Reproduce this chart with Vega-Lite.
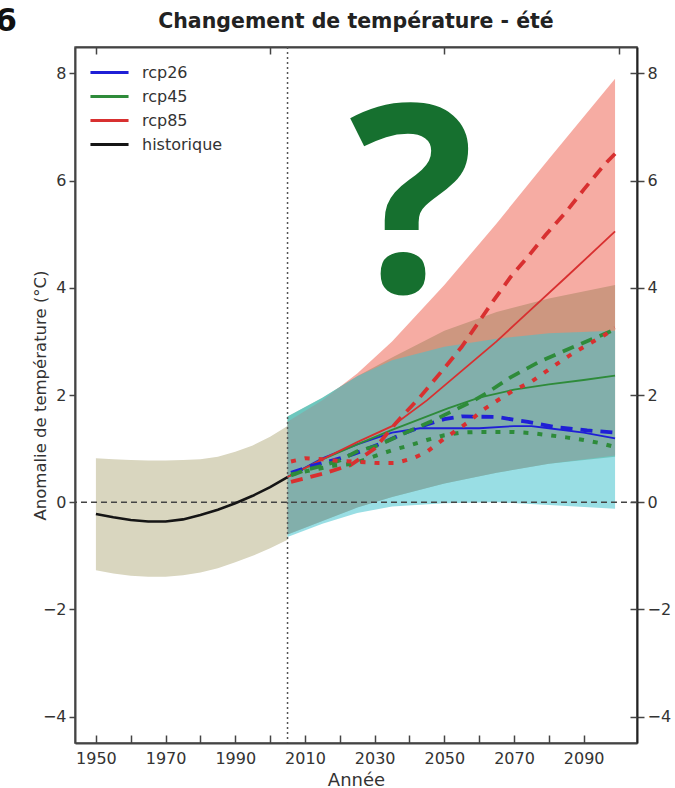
{
  "$schema": "https://vega.github.io/schema/vega-lite/v6.json",
  "width": 562,
  "height": 696,
  "autosize": {"type": "none"},
  "padding": {"left": 75, "top": 47, "right": 38, "bottom": 45},
  "background": "white",
  "title": {"text": "Changement de température - été", "fontSize": 20.5, "fontWeight": "bold", "color": "#222", "offset": 18, "dy": 45.5, "anchor": "middle", "frame": "group", "font": "DejaVu Sans"},
  "config": {
    "font": "DejaVu Sans",
    "view": {"stroke": "#555", "strokeWidth": 1.5},
    "axis": {"labelFont": "DejaVu Sans", "labelFontSize": 16, "labelColor": "#333", "titleFont": "DejaVu Sans", "titleFontSize": 16.5, "titleFontWeight": "normal", "titleColor": "#333", "domainColor": "#444", "domainWidth": 2, "tickColor": "#444", "tickWidth": 1.5, "grid": false}
  },
  "datasets": {
    "hist": [
      {"year": 1950, "val": -0.22, "lo": -1.27, "hi": 0.82},
      {"year": 1955, "val": -0.28, "lo": -1.33, "hi": 0.80},
      {"year": 1960, "val": -0.33, "lo": -1.37, "hi": 0.79},
      {"year": 1965, "val": -0.36, "lo": -1.39, "hi": 0.78},
      {"year": 1970, "val": -0.36, "lo": -1.39, "hi": 0.78},
      {"year": 1975, "val": -0.32, "lo": -1.36, "hi": 0.79},
      {"year": 1980, "val": -0.24, "lo": -1.31, "hi": 0.80},
      {"year": 1985, "val": -0.14, "lo": -1.23, "hi": 0.85},
      {"year": 1990, "val": -0.02, "lo": -1.12, "hi": 0.94},
      {"year": 1995, "val": 0.12, "lo": -1.0, "hi": 1.06},
      {"year": 2000, "val": 0.28, "lo": -0.86, "hi": 1.22},
      {"year": 2005, "val": 0.47, "lo": -0.70, "hi": 1.42}
    ],
    "bands": [
      {"scen": "rcp26", "year": 2005, "lo": -0.65, "hi": 1.6},
      {"scen": "rcp26", "year": 2015, "lo": -0.4, "hi": 1.95},
      {"scen": "rcp26", "year": 2025, "lo": -0.2, "hi": 2.35},
      {"scen": "rcp26", "year": 2035, "lo": -0.08, "hi": 2.65},
      {"scen": "rcp26", "year": 2050, "lo": -0.02, "hi": 2.9},
      {"scen": "rcp26", "year": 2065, "lo": 0.0, "hi": 3.05},
      {"scen": "rcp26", "year": 2080, "lo": -0.05, "hi": 3.15},
      {"scen": "rcp26", "year": 2099, "lo": -0.12, "hi": 3.2},
      {"scen": "rcp45", "year": 2005, "lo": -0.6, "hi": 1.6},
      {"scen": "rcp45", "year": 2015, "lo": -0.35, "hi": 1.95},
      {"scen": "rcp45", "year": 2025, "lo": -0.1, "hi": 2.35},
      {"scen": "rcp45", "year": 2035, "lo": 0.1, "hi": 2.7},
      {"scen": "rcp45", "year": 2050, "lo": 0.35, "hi": 3.2},
      {"scen": "rcp45", "year": 2065, "lo": 0.55, "hi": 3.55},
      {"scen": "rcp45", "year": 2080, "lo": 0.72, "hi": 3.8},
      {"scen": "rcp45", "year": 2099, "lo": 0.85, "hi": 4.05},
      {"scen": "rcp85", "year": 2005, "lo": -0.6, "hi": 1.5},
      {"scen": "rcp85", "year": 2015, "lo": -0.35, "hi": 1.9},
      {"scen": "rcp85", "year": 2025, "lo": -0.1, "hi": 2.4},
      {"scen": "rcp85", "year": 2035, "lo": 0.1, "hi": 3.0},
      {"scen": "rcp85", "year": 2050, "lo": 0.35, "hi": 4.05},
      {"scen": "rcp85", "year": 2065, "lo": 0.55, "hi": 5.2},
      {"scen": "rcp85", "year": 2080, "lo": 0.72, "hi": 6.4},
      {"scen": "rcp85", "year": 2099, "lo": 0.87, "hi": 7.9}
    ],
    "lines": [
      {"scen": "historique", "style": "solid", "year": 1950, "val": -0.22},
      {"scen": "historique", "style": "solid", "year": 1955, "val": -0.28},
      {"scen": "historique", "style": "solid", "year": 1960, "val": -0.33},
      {"scen": "historique", "style": "solid", "year": 1965, "val": -0.36},
      {"scen": "historique", "style": "solid", "year": 1970, "val": -0.36},
      {"scen": "historique", "style": "solid", "year": 1975, "val": -0.32},
      {"scen": "historique", "style": "solid", "year": 1980, "val": -0.24},
      {"scen": "historique", "style": "solid", "year": 1985, "val": -0.14},
      {"scen": "historique", "style": "solid", "year": 1990, "val": -0.02},
      {"scen": "historique", "style": "solid", "year": 1995, "val": 0.12},
      {"scen": "historique", "style": "solid", "year": 2000, "val": 0.28},
      {"scen": "historique", "style": "solid", "year": 2005, "val": 0.47},

      {"scen": "rcp26", "style": "solid", "year": 2005, "val": 0.47},
      {"scen": "rcp26", "style": "solid", "year": 2015, "val": 0.82},
      {"scen": "rcp26", "style": "solid", "year": 2025, "val": 1.08},
      {"scen": "rcp26", "style": "solid", "year": 2035, "val": 1.3},
      {"scen": "rcp26", "style": "solid", "year": 2043, "val": 1.38},
      {"scen": "rcp26", "style": "solid", "year": 2050, "val": 1.38},
      {"scen": "rcp26", "style": "solid", "year": 2060, "val": 1.38},
      {"scen": "rcp26", "style": "solid", "year": 2070, "val": 1.42},
      {"scen": "rcp26", "style": "solid", "year": 2075, "val": 1.42},
      {"scen": "rcp26", "style": "solid", "year": 2080, "val": 1.38},
      {"scen": "rcp26", "style": "solid", "year": 2090, "val": 1.3},
      {"scen": "rcp26", "style": "solid", "year": 2099, "val": 1.19},

      {"scen": "rcp45", "style": "solid", "year": 2005, "val": 0.47},
      {"scen": "rcp45", "style": "solid", "year": 2015, "val": 0.8},
      {"scen": "rcp45", "style": "solid", "year": 2025, "val": 1.08},
      {"scen": "rcp45", "style": "solid", "year": 2035, "val": 1.35},
      {"scen": "rcp45", "style": "solid", "year": 2043, "val": 1.55},
      {"scen": "rcp45", "style": "solid", "year": 2051, "val": 1.75},
      {"scen": "rcp45", "style": "solid", "year": 2060, "val": 1.95},
      {"scen": "rcp45", "style": "solid", "year": 2070, "val": 2.1},
      {"scen": "rcp45", "style": "solid", "year": 2080, "val": 2.2},
      {"scen": "rcp45", "style": "solid", "year": 2090, "val": 2.28},
      {"scen": "rcp45", "style": "solid", "year": 2099, "val": 2.36},

      {"scen": "rcp85", "style": "solid", "year": 2005, "val": 0.47},
      {"scen": "rcp85", "style": "solid", "year": 2015, "val": 0.8},
      {"scen": "rcp85", "style": "solid", "year": 2025, "val": 1.12},
      {"scen": "rcp85", "style": "solid", "year": 2035, "val": 1.42},
      {"scen": "rcp85", "style": "solid", "year": 2045, "val": 1.9},
      {"scen": "rcp85", "style": "solid", "year": 2055, "val": 2.45},
      {"scen": "rcp85", "style": "solid", "year": 2065, "val": 3.0},
      {"scen": "rcp85", "style": "solid", "year": 2075, "val": 3.6},
      {"scen": "rcp85", "style": "solid", "year": 2085, "val": 4.2},
      {"scen": "rcp85", "style": "solid", "year": 2099, "val": 5.05},

      {"scen": "rcp26", "style": "dashed", "year": 2006, "val": 0.55},
      {"scen": "rcp26", "style": "dashed", "year": 2012, "val": 0.68},
      {"scen": "rcp26", "style": "dashed", "year": 2018, "val": 0.78},
      {"scen": "rcp26", "style": "dashed", "year": 2024, "val": 0.9},
      {"scen": "rcp26", "style": "dashed", "year": 2032, "val": 1.1},
      {"scen": "rcp26", "style": "dashed", "year": 2039, "val": 1.3},
      {"scen": "rcp26", "style": "dashed", "year": 2045, "val": 1.45},
      {"scen": "rcp26", "style": "dashed", "year": 2050, "val": 1.55},
      {"scen": "rcp26", "style": "dashed", "year": 2055, "val": 1.6},
      {"scen": "rcp26", "style": "dashed", "year": 2065, "val": 1.59},
      {"scen": "rcp26", "style": "dashed", "year": 2074, "val": 1.5},
      {"scen": "rcp26", "style": "dashed", "year": 2082, "val": 1.4},
      {"scen": "rcp26", "style": "dashed", "year": 2091, "val": 1.34},
      {"scen": "rcp26", "style": "dashed", "year": 2099, "val": 1.3},

      {"scen": "rcp45", "style": "dashed", "year": 2006, "val": 0.5},
      {"scen": "rcp45", "style": "dashed", "year": 2010, "val": 0.6},
      {"scen": "rcp45", "style": "dashed", "year": 2015, "val": 0.68},
      {"scen": "rcp45", "style": "dashed", "year": 2020, "val": 0.78},
      {"scen": "rcp45", "style": "dashed", "year": 2025, "val": 0.95},
      {"scen": "rcp45", "style": "dashed", "year": 2031, "val": 1.06},
      {"scen": "rcp45", "style": "dashed", "year": 2039, "val": 1.3},
      {"scen": "rcp45", "style": "dashed", "year": 2046, "val": 1.5},
      {"scen": "rcp45", "style": "dashed", "year": 2053, "val": 1.72},
      {"scen": "rcp45", "style": "dashed", "year": 2058, "val": 1.88},
      {"scen": "rcp45", "style": "dashed", "year": 2062, "val": 2.03},
      {"scen": "rcp45", "style": "dashed", "year": 2069, "val": 2.33},
      {"scen": "rcp45", "style": "dashed", "year": 2077, "val": 2.61},
      {"scen": "rcp45", "style": "dashed", "year": 2085, "val": 2.84},
      {"scen": "rcp45", "style": "dashed", "year": 2093, "val": 3.06},
      {"scen": "rcp45", "style": "dashed", "year": 2099, "val": 3.22},

      {"scen": "rcp85", "style": "dashed", "year": 2006, "val": 0.38},
      {"scen": "rcp85", "style": "dashed", "year": 2015, "val": 0.53},
      {"scen": "rcp85", "style": "dashed", "year": 2023, "val": 0.69},
      {"scen": "rcp85", "style": "dashed", "year": 2030, "val": 1.0},
      {"scen": "rcp85", "style": "dashed", "year": 2036, "val": 1.47},
      {"scen": "rcp85", "style": "dashed", "year": 2043, "val": 1.96},
      {"scen": "rcp85", "style": "dashed", "year": 2050, "val": 2.5},
      {"scen": "rcp85", "style": "dashed", "year": 2055, "val": 2.9},
      {"scen": "rcp85", "style": "dashed", "year": 2064, "val": 3.75},
      {"scen": "rcp85", "style": "dashed", "year": 2069, "val": 4.2},
      {"scen": "rcp85", "style": "dashed", "year": 2074, "val": 4.58},
      {"scen": "rcp85", "style": "dashed", "year": 2079, "val": 4.98},
      {"scen": "rcp85", "style": "dashed", "year": 2085, "val": 5.42},
      {"scen": "rcp85", "style": "dashed", "year": 2090, "val": 5.83},
      {"scen": "rcp85", "style": "dashed", "year": 2096, "val": 6.3},
      {"scen": "rcp85", "style": "dashed", "year": 2099, "val": 6.5},

      {"scen": "rcp45", "style": "dotted", "year": 2006, "val": 0.52},
      {"scen": "rcp45", "style": "dotted", "year": 2012, "val": 0.6},
      {"scen": "rcp45", "style": "dotted", "year": 2018, "val": 0.68},
      {"scen": "rcp45", "style": "dotted", "year": 2024, "val": 0.72},
      {"scen": "rcp45", "style": "dotted", "year": 2030, "val": 0.86},
      {"scen": "rcp45", "style": "dotted", "year": 2035, "val": 0.97},
      {"scen": "rcp45", "style": "dotted", "year": 2040, "val": 1.06},
      {"scen": "rcp45", "style": "dotted", "year": 2045, "val": 1.16},
      {"scen": "rcp45", "style": "dotted", "year": 2050, "val": 1.25},
      {"scen": "rcp45", "style": "dotted", "year": 2055, "val": 1.3},
      {"scen": "rcp45", "style": "dotted", "year": 2060, "val": 1.31},
      {"scen": "rcp45", "style": "dotted", "year": 2065, "val": 1.31},
      {"scen": "rcp45", "style": "dotted", "year": 2070, "val": 1.31},
      {"scen": "rcp45", "style": "dotted", "year": 2075, "val": 1.29},
      {"scen": "rcp45", "style": "dotted", "year": 2080, "val": 1.25},
      {"scen": "rcp45", "style": "dotted", "year": 2085, "val": 1.21},
      {"scen": "rcp45", "style": "dotted", "year": 2090, "val": 1.16},
      {"scen": "rcp45", "style": "dotted", "year": 2095, "val": 1.1},
      {"scen": "rcp45", "style": "dotted", "year": 2099, "val": 1.03},

      {"scen": "rcp85", "style": "dotted", "year": 2006, "val": 0.76},
      {"scen": "rcp85", "style": "dotted", "year": 2010, "val": 0.82},
      {"scen": "rcp85", "style": "dotted", "year": 2015, "val": 0.8},
      {"scen": "rcp85", "style": "dotted", "year": 2020, "val": 0.77},
      {"scen": "rcp85", "style": "dotted", "year": 2026, "val": 0.75},
      {"scen": "rcp85", "style": "dotted", "year": 2031, "val": 0.73},
      {"scen": "rcp85", "style": "dotted", "year": 2036, "val": 0.73},
      {"scen": "rcp85", "style": "dotted", "year": 2041, "val": 0.82},
      {"scen": "rcp85", "style": "dotted", "year": 2045, "val": 0.94},
      {"scen": "rcp85", "style": "dotted", "year": 2049, "val": 1.14},
      {"scen": "rcp85", "style": "dotted", "year": 2053, "val": 1.32},
      {"scen": "rcp85", "style": "dotted", "year": 2057, "val": 1.5},
      {"scen": "rcp85", "style": "dotted", "year": 2061, "val": 1.72},
      {"scen": "rcp85", "style": "dotted", "year": 2066, "val": 1.93},
      {"scen": "rcp85", "style": "dotted", "year": 2070, "val": 2.09},
      {"scen": "rcp85", "style": "dotted", "year": 2075, "val": 2.25},
      {"scen": "rcp85", "style": "dotted", "year": 2079, "val": 2.43},
      {"scen": "rcp85", "style": "dotted", "year": 2083, "val": 2.61},
      {"scen": "rcp85", "style": "dotted", "year": 2087, "val": 2.78},
      {"scen": "rcp85", "style": "dotted", "year": 2092, "val": 2.97},
      {"scen": "rcp85", "style": "dotted", "year": 2096, "val": 3.12},
      {"scen": "rcp85", "style": "dotted", "year": 2099, "val": 3.25}
    ]
  },
  "resolve": {"axis": {"x": "independent", "y": "independent"}},
  "layer": [
    {
      "data": {"name": "hist"},
      "mark": {"type": "area", "color": "#d9d6bf", "opacity": 1},
      "encoding": {
        "x": {"field": "year", "type": "quantitative", "scale": {"domain": [1944, 2105.3], "nice": false, "zero": false},
              "axis": {"orient": "bottom", "values": [1950, 1960, 1970, 1980, 1990, 2000, 2010, 2020, 2030, 2040, 2050, 2060, 2070, 2080, 2090], "format": "d", "tickSize": -8, "labelPadding": 15, "labelExpr": "datum.value % 20 == 10 ? datum.label : ''", "labelOverlap": false, "labelFlush": false, "title": "Année", "titleFontSize": 18, "titlePadding": 5}},
        "y": {"field": "lo", "type": "quantitative", "scale": {"domain": [-4.49, 8.49], "nice": false, "zero": false},
              "axis": {"orient": "left", "values": [-4, -2, 0, 2, 4, 6, 8], "tickSize": 6, "labelPadding": 3, "title": "Anomalie de température (°C)", "titlePadding": -6}},
        "y2": {"field": "hi"}
      }
    },
    {
      "data": {"name": "bands"},
      "transform": [{"filter": "datum.scen === 'rcp45'"}],
      "mark": {"type": "area", "color": "#3d9a5a", "opacity": 0.5},
      "encoding": {
        "x": {"field": "year", "type": "quantitative", "scale": {"domain": [1944, 2105.3], "nice": false, "zero": false}, "axis": null},
        "y": {"field": "lo", "type": "quantitative", "scale": {"domain": [-4.49, 8.49], "nice": false, "zero": false}, "axis": null},
        "y2": {"field": "hi"}
      }
    },
    {
      "data": {"name": "bands"},
      "transform": [{"filter": "datum.scen === 'rcp85'"}],
      "mark": {"type": "area", "color": "#f07060", "opacity": 0.58},
      "encoding": {
        "x": {"field": "year", "type": "quantitative", "scale": {"domain": [1944, 2105.3], "nice": false, "zero": false}, "axis": null},
        "y": {"field": "lo", "type": "quantitative", "scale": {"domain": [-4.49, 8.49], "nice": false, "zero": false}, "axis": null},
        "y2": {"field": "hi"}
      }
    },
    {
      "data": {"name": "bands"},
      "transform": [{"filter": "datum.scen === 'rcp26'"}],
      "mark": {"type": "area", "color": "#46c3cd", "opacity": 0.55},
      "encoding": {
        "x": {"field": "year", "type": "quantitative", "scale": {"domain": [1944, 2105.3], "nice": false, "zero": false}, "axis": null},
        "y": {"field": "lo", "type": "quantitative", "scale": {"domain": [-4.49, 8.49], "nice": false, "zero": false}, "axis": null},
        "y2": {"field": "hi"}
      }
    },
    {
      "data": {"values": [{"v": 0}]},
      "mark": {"type": "rule", "color": "#444", "strokeDash": [6, 4], "strokeWidth": 1.5},
      "encoding": {
        "y": {"field": "v", "type": "quantitative", "scale": {"domain": [-4.49, 8.49], "nice": false, "zero": false},
              "axis": {"orient": "right", "values": [-4, -2, 0, 2, 4, 6, 8], "tickSize": 7, "labelPadding": 3, "title": null, "domainColor": "#222"}}
      }
    },
    {
      "data": {"values": [{"v": 2005}]},
      "mark": {"type": "rule", "color": "#555", "strokeDash": [2, 3], "strokeWidth": 1.5},
      "encoding": {
        "x": {"field": "v", "type": "quantitative", "scale": {"domain": [1944, 2105.3], "nice": false, "zero": false},
              "axis": {"orient": "top", "values": [1950, 2000, 2050, 2100], "tickSize": -7, "labels": false, "title": null}}
      }
    },
    {
      "data": {"name": "lines"},
      "transform": [{"filter": "datum.style === 'solid'"}],
      "mark": {"type": "line"},
      "encoding": {
        "x": {"field": "year", "type": "quantitative", "scale": {"domain": [1944, 2105.3], "nice": false, "zero": false}, "axis": null},
        "y": {"field": "val", "type": "quantitative", "scale": {"domain": [-4.49, 8.49], "nice": false, "zero": false},
              "axis": {"orient": "right", "values": [-4, -2, 0, 2, 4, 6, 8], "tickSize": -7, "labels": false, "domain": false, "title": null}},
        "color": {"field": "scen", "type": "nominal",
                  "scale": {"domain": ["rcp26", "rcp45", "rcp85", "historique"], "range": ["#1f1fd6", "#2e8b3a", "#d83030", "#151515"]},
                  "legend": {"orient": "none", "legendX": 19, "legendY": 10, "title": null, "symbolType": "M-1.36,0L1.36,0", "symbolSize": 784, "symbolStrokeWidth": 3, "labelFontSize": 16, "labelColor": "#333", "labelFont": "DejaVu Sans", "rowPadding": 0, "labelOffset": 17}},
        "strokeWidth": {"condition": {"test": "datum.scen === 'historique'", "value": 2.6}, "value": 1.8}
      }
    },
    {
      "data": {"name": "lines"},
      "transform": [{"filter": "datum.style === 'dashed'"}],
      "mark": {"type": "line", "strokeDash": [12, 8], "strokeWidth": 3.8},
      "encoding": {
        "x": {"field": "year", "type": "quantitative", "scale": {"domain": [1944, 2105.3], "nice": false, "zero": false}, "axis": null},
        "y": {"field": "val", "type": "quantitative", "scale": {"domain": [-4.49, 8.49], "nice": false, "zero": false}, "axis": null},
        "color": {"field": "scen", "type": "nominal", "legend": null}
      }
    },
    {
      "data": {"name": "lines"},
      "transform": [{"filter": "datum.style === 'dotted'"}],
      "mark": {"type": "line", "strokeDash": [5, 9], "strokeWidth": 4},
      "encoding": {
        "x": {"field": "year", "type": "quantitative", "scale": {"domain": [1944, 2105.3], "nice": false, "zero": false}, "axis": null},
        "y": {"field": "val", "type": "quantitative", "scale": {"domain": [-4.49, 8.49], "nice": false, "zero": false}, "axis": null},
        "color": {"field": "scen", "type": "nominal", "legend": null}
      }
    },
    {
      "data": {"values": [{"t": "?", "x": 2040.7, "y": 3.92}]},
      "mark": {"type": "text", "font": "Open Sans", "fontWeight": "bold", "fontSize": 262, "color": "#16702f", "align": "center", "baseline": "alphabetic", "clip": false},
      "encoding": {
        "x": {"field": "x", "type": "quantitative", "scale": {"domain": [1944, 2105.3], "nice": false, "zero": false}, "axis": null},
        "y": {"field": "y", "type": "quantitative", "scale": {"domain": [-4.49, 8.49], "nice": false, "zero": false}, "axis": null},
        "text": {"field": "t"}
      }
    },
    {
      "data": {"values": [{"t": "6", "x": 1921, "y": 8.79}]},
      "mark": {"type": "text", "font": "DejaVu Sans", "fontWeight": "bold", "fontSize": 32, "color": "#111", "align": "left", "baseline": "alphabetic", "clip": false},
      "encoding": {
        "x": {"field": "x", "type": "quantitative", "scale": {"domain": [1944, 2105.3], "nice": false, "zero": false}, "axis": null},
        "y": {"field": "y", "type": "quantitative", "scale": {"domain": [-4.49, 8.49], "nice": false, "zero": false}, "axis": null},
        "text": {"field": "t"}
      }
    }
  ]
}
